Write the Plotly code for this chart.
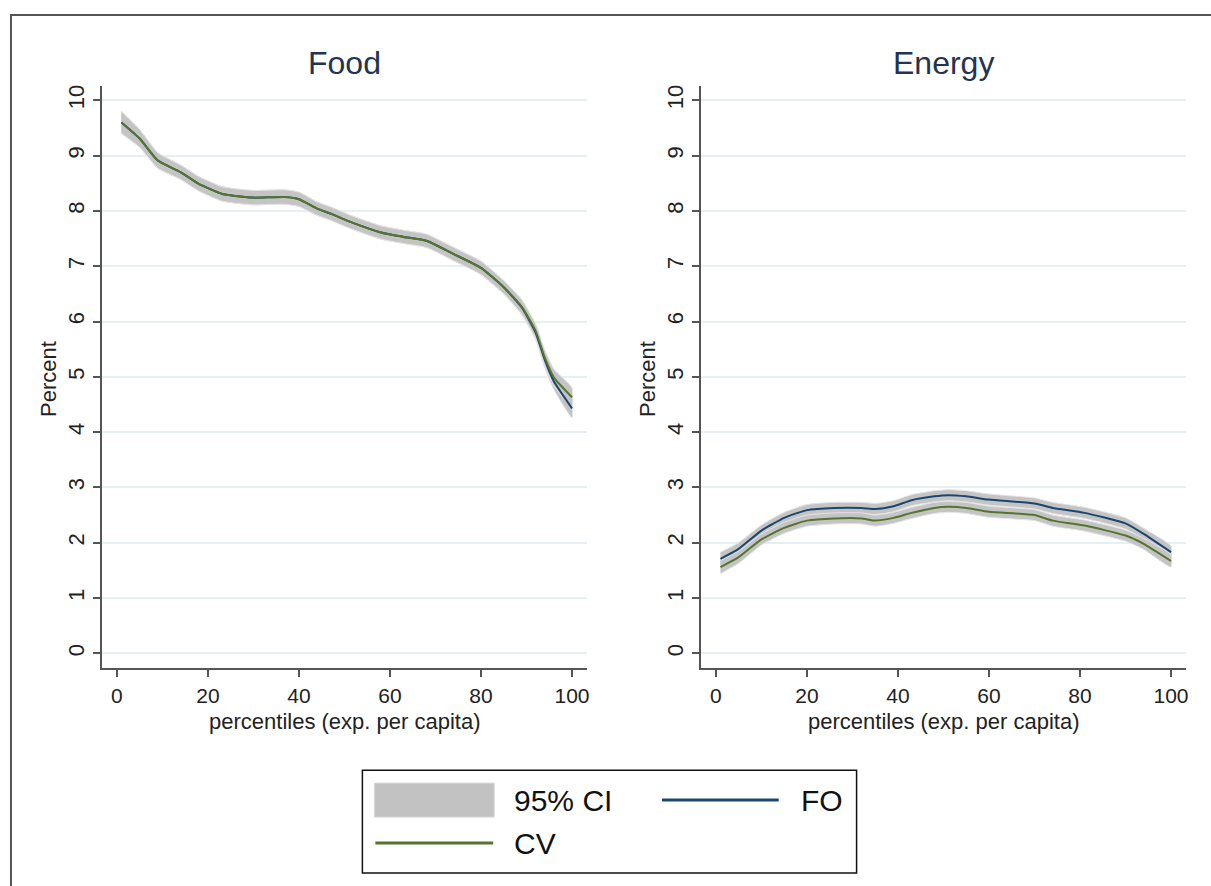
import plotly.graph_objects as go

# ---------------- data ----------------
food_x = [1, 5, 9, 14, 18, 23, 26, 30, 37, 40, 44, 47, 51, 58, 63, 68, 74, 80, 85, 89, 92, 94, 96, 100]
food_cv = [9.60, 9.31, 8.91, 8.70, 8.49, 8.31, 8.27, 8.24, 8.25, 8.21, 8.04, 7.95, 7.81, 7.61, 7.53, 7.46,
           7.22, 6.97, 6.62, 6.26, 5.83, 5.35, 4.99, 4.63]
food_fo = [9.60, 9.31, 8.91, 8.70, 8.49, 8.31, 8.27, 8.24, 8.25, 8.21, 8.04, 7.95, 7.81, 7.61, 7.53, 7.46,
           7.22, 6.97, 6.62, 6.25, 5.80, 5.31, 4.92, 4.43]
food_ci_half = [0.20, 0.16, 0.14, 0.13, 0.13, 0.13, 0.13, 0.13, 0.13, 0.13, 0.12, 0.12, 0.12, 0.12, 0.12,
                0.12, 0.12, 0.12, 0.12, 0.13, 0.13, 0.14, 0.15, 0.17]

energy_x = [1, 5, 10, 15, 20, 26, 32, 35, 39, 43, 48, 51, 55, 60, 70, 74, 81, 90, 94, 100]
energy_fo = [1.71, 1.89, 2.22, 2.45, 2.59, 2.63, 2.63, 2.61, 2.66, 2.77, 2.84, 2.86, 2.84, 2.78, 2.71,
             2.63, 2.54, 2.35, 2.16, 1.83]
energy_cv = [1.56, 1.74, 2.06, 2.27, 2.40, 2.44, 2.44, 2.40, 2.45, 2.54, 2.63, 2.65, 2.63, 2.56, 2.50,
             2.40, 2.31, 2.13, 1.98, 1.67]
energy_ci_half = [0.12, 0.11, 0.10, 0.10, 0.10, 0.10, 0.10, 0.10, 0.10, 0.10, 0.10, 0.10, 0.10, 0.10,
                  0.10, 0.10, 0.10, 0.10, 0.10, 0.11]

panel_titles = ["Food", "Energy"]
x_ticks = [0, 20, 40, 60, 80, 100]
y_ticks = [0, 1, 2, 3, 4, 5, 6, 7, 8, 9, 10]
x_title = "percentiles (exp. per capita)"
y_title = "Percent"
legend_labels = ["95% CI", "FO", "CV"]

# ---------------- style ----------------
W, H = 1211, 886
FO_COLOR = "#1a476f"
CV_COLOR = "#55752f"
CI_COLOR = "#c4c4c4"
CI_EDGE = "#e4e4e4"
GRID = "#e6eff1"
AXIS = "#555555"
FONT = "Liberation Sans, Arial, sans-serif"


def px(x):
    return x / W


def py(y):
    return 1 - y / H


fig = go.Figure()


def band(x, y, half, xa, ya):
    lo = [v - h for v, h in zip(y, half)]
    hi = [v + h for v, h in zip(y, half)]
    fig.add_trace(go.Scatter(x=x + x[::-1], y=hi + lo[::-1], fill="toself", fillcolor=CI_COLOR,
                             line=dict(color=CI_EDGE, width=1, shape="spline", smoothing=0.5),
                             mode="lines", xaxis=xa, yaxis=ya, showlegend=False, hoverinfo="skip"))


def line(x, y, color, xa, ya):
    fig.add_trace(go.Scatter(x=x, y=y, mode="lines",
                             line=dict(color=color, width=2, shape="spline", smoothing=0.5),
                             xaxis=xa, yaxis=ya, showlegend=False))


# Food panel
band(food_x, food_fo, food_ci_half, "x", "y")
band(food_x, food_cv, food_ci_half, "x", "y")
line(food_x, food_fo, FO_COLOR, "x", "y")
line(food_x, food_cv, CV_COLOR, "x", "y")
# Energy panel
band(energy_x, energy_fo, energy_ci_half, "x2", "y2")
band(energy_x, energy_cv, energy_ci_half, "x2", "y2")
line(energy_x, energy_fo, FO_COLOR, "x2", "y2")
line(energy_x, energy_cv, CV_COLOR, "x2", "y2")

panels = [(102.5, 588), (702.5, 1188)]
plot_top, plot_bottom = 85, 667.5

xaxis_common = dict(range=[-3.2, 103.3], tickvals=x_ticks, ticks="outside", ticklen=8, tickwidth=1.5,
                    tickcolor=AXIS, showline=True, linecolor=AXIS, linewidth=1.5, showgrid=False,
                    zeroline=False, tickfont=dict(family=FONT, size=21, color="#222222"))
yaxis_common = dict(range=[-0.26, 10.26], tickvals=y_ticks, ticks="outside", ticklen=8, tickwidth=1.5,
                    tickcolor=AXIS, showline=True, linecolor=AXIS, linewidth=1.5, showgrid=True,
                    gridcolor=GRID, gridwidth=1.5, zeroline=False, tickangle=-90,
                    tickfont=dict(family=FONT, size=22, color="#222222"))

fig.update_layout(
    xaxis=dict(domain=[px(panels[0][0]), px(panels[0][1])], anchor="y", **xaxis_common),
    yaxis=dict(domain=[py(plot_bottom), py(plot_top)], anchor="x", **yaxis_common),
    xaxis2=dict(domain=[px(panels[1][0]), px(panels[1][1])], anchor="y2", **xaxis_common),
    yaxis2=dict(domain=[py(plot_bottom), py(plot_top)], anchor="x2", **yaxis_common),
)

annotations = []
for (l, r), t in zip(panels, panel_titles):
    cx = (l + r) / 2
    annotations.append(dict(x=px(cx), y=py(62), xref="paper", yref="paper", text=t, showarrow=False,
                            font=dict(family=FONT, size=32, color="#243352"), xanchor="center",
                            yanchor="middle"))
    annotations.append(dict(x=px(cx), y=py(721), xref="paper", yref="paper", text=x_title,
                            showarrow=False, font=dict(family=FONT, size=22, color="#222222"),
                            xanchor="center", yanchor="middle"))
    annotations.append(dict(x=px(l - 54), y=py(378), xref="paper", yref="paper", text=y_title,
                            showarrow=False, textangle=-90, font=dict(family=FONT, size=22, color="#222222"),
                            xanchor="center", yanchor="middle"))

# legend (manual, Stata style)
shapes = [
    dict(type="rect", xref="paper", yref="paper", x0=px(11), y0=py(H + 20), x1=px(W + 20), y1=py(14),
         line=dict(color=AXIS, width=2), fillcolor="rgba(0,0,0,0)", layer="below"),
    dict(type="rect", xref="paper", yref="paper", x0=px(363), y0=py(873), x1=px(858), y1=py(770),
         line=dict(color="#111111", width=1.5), fillcolor="white"),
    dict(type="rect", xref="paper", yref="paper", x0=px(375), y0=py(817), x1=px(495), y1=py(783),
         line=dict(color="#d8d8d8", width=1), fillcolor="#c2c2c2"),
    dict(type="line", xref="paper", yref="paper", x0=px(663), y0=py(800), x1=px(780), y1=py(800),
         line=dict(color=FO_COLOR, width=3)),
    dict(type="line", xref="paper", yref="paper", x0=px(376), y0=py(843), x1=px(494), y1=py(843),
         line=dict(color=CV_COLOR, width=3)),
]
for txt, (x, y) in zip(legend_labels, [(513, 800), (800, 800), (513, 843)]):
    annotations.append(dict(x=px(x), y=py(y), xref="paper", yref="paper", text=txt, showarrow=False,
                            font=dict(family=FONT, size=30, color="#111111"), xanchor="left",
                            yanchor="middle"))

fig.update_layout(width=W, height=H, margin=dict(l=0, r=0, t=0, b=0), paper_bgcolor="white",
                  plot_bgcolor="white", showlegend=False, annotations=annotations, shapes=shapes)

fig.write_html("out.html", config={"displayModeBar": False},
               post_script="document.body.style.margin='0';document.body.style.overflow='hidden';")
